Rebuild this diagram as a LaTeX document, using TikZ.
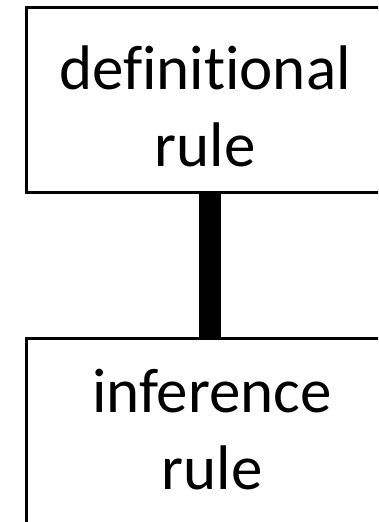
\documentclass[tikz,border=0pt]{standalone}
\usepackage{fontspec}
\setmainfont{Carlito}[Ligatures={NoCommon,NoRare,NoContextual}]
\begin{document}
\begin{tikzpicture}[x=1pt,y=1pt,
  box/.style={draw=black,line width=3pt,fill=white,inner sep=0pt,minimum width=367pt},
  label/.style={inner sep=0pt,align=center,anchor=base,font=\fontsize{63}{77}\selectfont},
  link/.style={line width=22pt,draw=black}]
\useasboundingbox (0,0) rectangle (378,522);
\clip (0,0) rectangle (378,522);
\fill[white] (0,0) rectangle (378,522);
\node[box,minimum height=185pt] (top) at (209.5,422) {};
\node[box,minimum height=200pt] (bottom) at (209.5,83.5) {};
\draw[link] (top.south) -- (bottom.north);
\node[label] (toptext) at (205,355) {definitional\\rule};
\node[label] (bottomtext) at (212,32) {inference\\rule};
\end{tikzpicture}
\end{document}
